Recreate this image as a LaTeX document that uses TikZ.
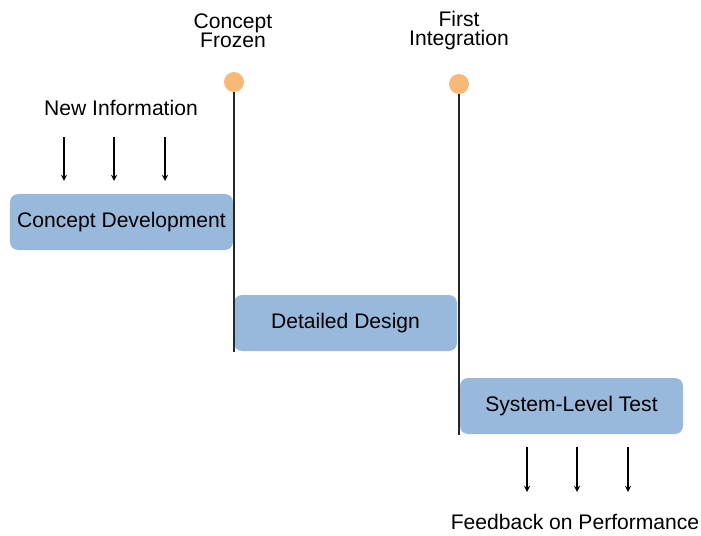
\documentclass[tikz,border=0pt]{standalone}
\usepackage{fontspec}
\setmainfont{Liberation Sans}
\usepackage{xcolor}
\usetikzlibrary{arrows, positioning}
\definecolor{phaseblue}{HTML}{99B9DC}
\definecolor{milestone}{HTML}{F8B878}
\begin{document}
\begin{tikzpicture}[>=stealth,
			phase/.style={fill=phaseblue, rounded corners=0.16cm, minimum width=4.46cm, minimum height=1.12cm, text depth=0.1cm, font=\fontsize{12}{14}\selectfont},
			gate/.style={circle, fill=milestone, inner sep=0pt, minimum size=0.4cm},
			label/.style={font=\fontsize{12}{10.8}\selectfont, align=center}]
			\useasboundingbox (0,0) rectangle (14.02,10.7);
			% phases
			\node at (2.43,6.26) (cd) [phase] {Concept Development};
			\node at (6.91,4.24) (dd) [phase] {Detailed Design};
			\node at (11.43,2.58) (st) [phase] {System-Level Test};
			% milestones
			\coordinate (cfend) at (4.68,3.66);
			\coordinate (fiend) at (9.18,2.0);
			\node at (4.66,10.08) (cf) [label] {Concept\\Frozen};
			\node at (9.18,10.08) (fi) [label] {First\\Integration};
			\draw[line width=1.1pt, black!85] (4.68,9.06) coordinate (cftop) -- (cfend);
			\draw[line width=1.1pt, black!85] (9.18,9.02) coordinate (fitop) -- (fiend);
			\node at (cftop) (cfdot) [gate] {};
			\node at (fitop) (fidot) [gate] {};
			% new information
			\node at (2.42,8.54) (ni) [label] {New Information};
			\foreach \x [count=\i] in {1.28,2.28,3.3}
			{
				\coordinate (nitop\i) at (\x,7.96);
				\coordinate (nibot\i) at (\x,7.08);
				\draw[->, black, line width=0.6pt] (nitop\i) -- (nibot\i);
			}
			% feedback
			\node at (11.5,0.26) (fb) [label] {Feedback on Performance};
			\foreach \x [count=\i] in {10.54,11.54,12.56}
			{
				\coordinate (fbtop\i) at (\x,1.76);
				\coordinate (fbbot\i) at (\x,0.86);
				\draw[->, black, line width=0.6pt] (fbtop\i) -- (fbbot\i);
			}
		\end{tikzpicture}
\end{document}
